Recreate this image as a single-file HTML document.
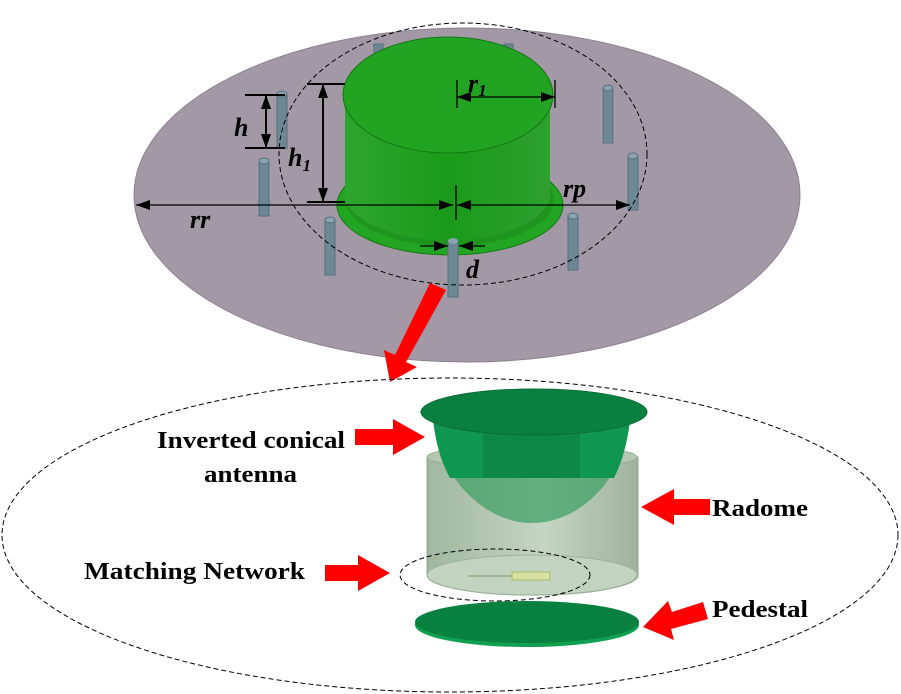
<!DOCTYPE html>
<html><head><style>html,body{margin:0;padding:0;background:#fff;}svg{display:block}
text{font-family:"Liberation Serif",serif;font-weight:bold;fill:#000}</style></head><body>
<svg width="901" height="694" viewBox="0 0 901 694" xmlns="http://www.w3.org/2000/svg">
<defs>
<linearGradient id="cyl" x1="0" x2="1"><stop offset="0" stop-color="#2fa62f"/><stop offset="0.5" stop-color="#1a9a1a"/><stop offset="1" stop-color="#2ea02e"/></linearGradient>
<linearGradient id="rad" x1="0" x2="1"><stop offset="0" stop-color="#9fb79f"/><stop offset="0.55" stop-color="#c5d5c2"/><stop offset="1" stop-color="#9fb39c"/></linearGradient>
<marker id="ah" viewBox="0 0 14 10" refX="14" refY="5" markerWidth="14" markerHeight="10" orient="auto-start-reverse" markerUnits="userSpaceOnUse"><path d="M0,0L14,5L0,10z" fill="#000"/></marker>
</defs>
<ellipse cx="467" cy="195" rx="333" ry="167" fill="#a398a5" stroke="#8d8190" stroke-width="1"/>
<g fill="#6d8793" stroke="#53707d" stroke-width="1">
<rect x="374" y="44" width="9" height="12"/><rect x="504" y="44" width="9" height="12"/>
<rect x="277" y="94" width="10" height="54"/><ellipse cx="282" cy="94" rx="5" ry="3" fill="#8aa3ae"/>
<rect x="603" y="88" width="10" height="55"/><ellipse cx="608" cy="88" rx="5" ry="3" fill="#8aa3ae"/>
<rect x="259" y="161" width="10" height="55"/><ellipse cx="264" cy="161" rx="5" ry="3" fill="#8aa3ae"/>
<rect x="628" y="156" width="10" height="54"/><ellipse cx="633" cy="156" rx="5" ry="3" fill="#8aa3ae"/>
<rect x="325" y="220" width="10" height="55"/><ellipse cx="330" cy="220" rx="5" ry="3" fill="#8aa3ae"/>
<rect x="568" y="216" width="10" height="54"/><ellipse cx="573" cy="216" rx="5" ry="3" fill="#8aa3ae"/>
</g>
<ellipse cx="450" cy="205" rx="113" ry="50" fill="#22a522" stroke="#157a15"/>
<ellipse cx="450" cy="200" rx="104" ry="46" fill="#1f941f"/>
<path d="M345,95 L345,200 A105,52 0 0 0 550,200 L550,95 z" fill="url(#cyl)"/>
<ellipse cx="448" cy="95" rx="105" ry="58" fill="#22a322" stroke="#147814"/>
<rect x="448" y="241" width="10" height="56" fill="#6d8793" stroke="#53707d"/><ellipse cx="453" cy="241" rx="5" ry="3" fill="#8aa3ae"/>
<ellipse cx="463" cy="154" rx="184" ry="131" fill="none" stroke="#000" stroke-dasharray="5,3" stroke-width="1"/>
<g stroke="#000" stroke-width="1.3" fill="none">
<line x1="136" y1="205" x2="453" y2="205" marker-start="url(#ah)" marker-end="url(#ah)"/>
<line x1="457" y1="205" x2="630" y2="205" marker-start="url(#ah)" marker-end="url(#ah)"/>
<line x1="456" y1="185" x2="456" y2="220"/>
<line x1="457" y1="97" x2="555" y2="97" marker-start="url(#ah)" marker-end="url(#ah)"/>
<line x1="457" y1="80" x2="457" y2="108"/><line x1="555" y1="80" x2="555" y2="108"/>
<line x1="245" y1="95" x2="285" y2="95" stroke-width="2"/><line x1="245" y1="148" x2="285" y2="148" stroke-width="2"/>
<line x1="266" y1="95" x2="266" y2="148" stroke-width="2" marker-start="url(#ah)" marker-end="url(#ah)"/>
<line x1="307" y1="84" x2="345" y2="84" stroke-width="2"/><line x1="307" y1="202" x2="345" y2="202" stroke-width="2"/>
<line x1="323" y1="84" x2="323" y2="202" stroke-width="2" marker-start="url(#ah)" marker-end="url(#ah)"/>
<line x1="420" y1="246" x2="448" y2="246" marker-end="url(#ah)"/>
<line x1="485" y1="246" x2="459" y2="246" marker-end="url(#ah)"/>
</g>
<g font-style="italic" font-size="26">
<text x="234" y="136">h</text><text x="288" y="166">h<tspan font-size="17" dy="5">1</tspan></text>
<text x="468" y="92">r<tspan font-size="17" dy="4">1</tspan></text>
<text x="563" y="197">rp</text><text x="190" y="228">rr</text><text x="466" y="278">d</text>
</g>
<polygon points="430,283 446,290 406,362 417,367 390,382 384,350 395,355" fill="#ff0000"/>
<ellipse cx="450" cy="535" rx="448" ry="157" fill="none" stroke="#000" stroke-dasharray="5,3" stroke-width="1"/>
<path d="M427,457 L427,575 A105,20 0 0 0 638,575 L638,457 z" fill="url(#rad)" stroke="#8ea58c"/>
<ellipse cx="532" cy="575" rx="105" ry="20" fill="#c2d3bf" stroke="#9cb29a"/>
<ellipse cx="532" cy="457" rx="105" ry="12" fill="#b4c8b1" stroke="#9cb29a"/>
<rect x="468" y="575" width="60" height="2" fill="#9fb89a"/><rect x="512" y="572" width="38" height="8" fill="#d6e0a0" stroke="#aab86a"/>
<path d="M433,418 C436,470 480,523 532,523 C585,523 628,470 630,418 z" fill="#3a9e62" opacity="0.7"/>
<path d="M433,418 C435,440 440,460 450,478 L614,478 C623,460 628,440 630,418 z" fill="#0f9650"/>
<path d="M483,430 L483,478 L580,478 L580,430 z" fill="#0b7f40" opacity="0.6"/>
<ellipse cx="534" cy="412" rx="113" ry="23" fill="#0a8040" stroke="#0a6e36"/>
<ellipse cx="495" cy="575" rx="95" ry="26" fill="none" stroke="#000" stroke-dasharray="5,3" stroke-width="1"/>
<ellipse cx="527" cy="625" rx="112" ry="22" fill="#11a050"/>
<ellipse cx="527" cy="622" rx="112" ry="21" fill="#078040"/>
<g fill="#ff0000">
<polygon points="355,429 393,429 393,419 425,437 393,455 393,445 355,445"/>
<polygon points="710,499 674,499 674,489 641,507 674,525 674,515 710,515"/>
<polygon points="325,565 358,565 358,555 390,573 358,591 358,581 325,581"/>
<polygon points="703,602 672,612 668,601 643,627 674,640 671,629 708,619"/>
</g>
<g font-size="24">
<text x="157" y="448" textLength="188" lengthAdjust="spacingAndGlyphs">Inverted conical</text>
<text x="204" y="482" textLength="93" lengthAdjust="spacingAndGlyphs">antenna</text>
<text x="712" y="516" textLength="96" lengthAdjust="spacingAndGlyphs">Radome</text>
<text x="84" y="579" textLength="221" lengthAdjust="spacingAndGlyphs">Matching Network</text>
<text x="712" y="617" textLength="96" lengthAdjust="spacingAndGlyphs">Pedestal</text>
</g>
</svg>
</body></html>
